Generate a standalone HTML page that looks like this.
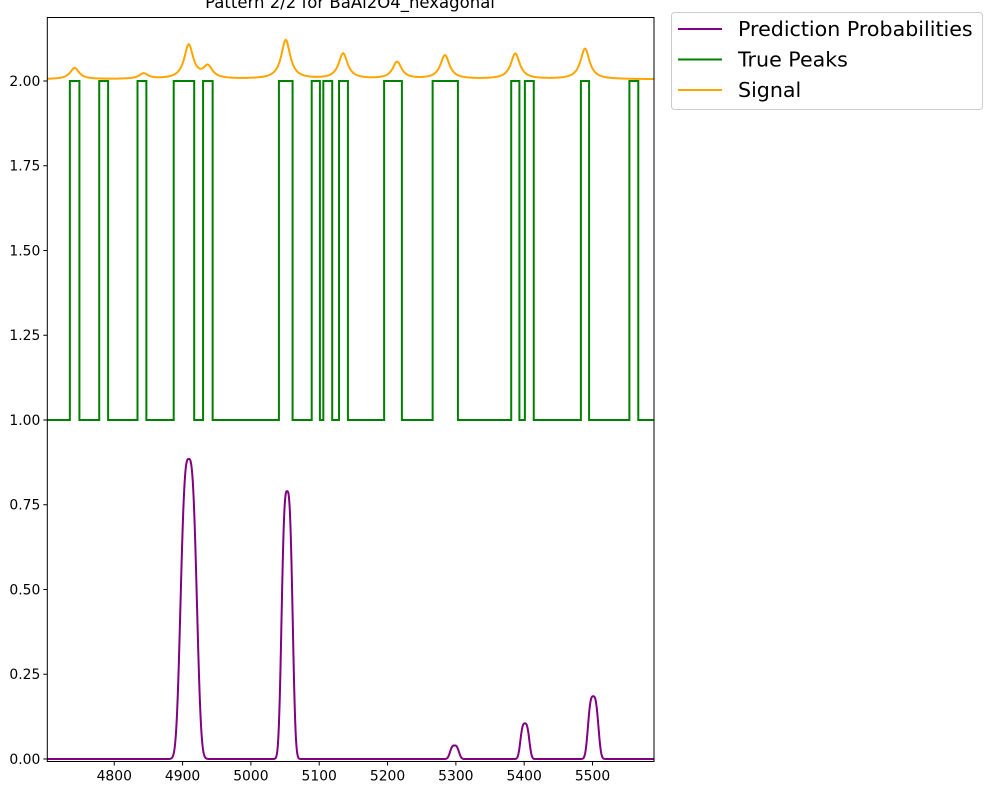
<!DOCTYPE html>
<html><head><meta charset="utf-8"><style>
body{margin:0;background:#fff;}
svg{display:block;font-family:"DejaVu Sans","Liberation Sans",sans-serif;}
</style></head><body>
<svg id="chart" width="1000" height="800"></svg>
<script>
const xTicks=[4800,4900,5000,5100,5200,5300,5400,5500];
const yTicks=[0,0.25,0.5,0.75,1.0,1.25,1.5,1.75,2.0];
const yTickLabels=["0.00","0.25","0.50","0.75","1.00","1.25","1.50","1.75","2.00"];
const truePeakStarts=[4735,4778,4834,4887,4930,5041,5089,5106,5129,5195,5266,5381,5401,5483,5554];
const truePeakEnds=[4749,4791,4847,4917,4944,5061,5101,5119,5142,5221,5303,5393,5414,5495,5567];
const signalPeakX=[4742,4843,4909,4937,5051,5135,5214,5284,5387,5489];
const signalPeakH=[0.033,0.016,0.10,0.035,0.115,0.075,0.05,0.07,0.075,0.09];
const predPeakX=[4909,5053,5298,5401,5501];
const predPeakH=[0.885,0.79,0.04,0.105,0.185];
const predPeakW=[11,7.5,6,6,7];
const signalBase=2.005;

const svg=document.getElementById('chart');
const NS='http://www.w3.org/2000/svg';
const L=47.3,R=654,T=17.5,B=761.5;
const xmin=4702,xmax=5590,ymin=-0.0074,ymax=2.1873;
const X=v=>L+(v-xmin)/(xmax-xmin)*(R-L);
const Y=v=>B-(v-ymin)/(ymax-ymin)*(B-T);
function mk(tag,attrs,parent){const e=document.createElementNS(NS,tag);for(const k in attrs)e.setAttribute(k,attrs[k]);(parent||svg).appendChild(e);return e;}

const title=mk('text',{x:350,y:8,'text-anchor':'middle','font-size':'16.5'});
title.textContent='Pattern 2/2 for BaAl2O4_hexagonal';



const defs=mk('defs',{});
const cp=mk('clipPath',{id:'clip'},defs);
mk('rect',{x:L,y:T,width:R-L,height:B-T},cp);
const g=mk('g',{'clip-path':'url(#clip)'});



let d='M'+X(xmin)+','+Y(1);
for(let i=0;i<truePeakStarts.length;i++){
  d+=' L'+X(truePeakStarts[i])+','+Y(1)+' L'+X(truePeakStarts[i])+','+Y(2)+' L'+X(truePeakEnds[i])+','+Y(2)+' L'+X(truePeakEnds[i])+','+Y(1);
}
d+=' L'+X(xmax)+','+Y(1);
const tp=mk('path',{d:d,fill:'none',stroke:'green','stroke-width':2},g);



let ds='';
for(let x=xmin;x<=xmax;x+=1){
  let v=signalBase;
  for(let i=0;i<signalPeakX.length;i++){const u=(x-signalPeakX[i])/8;v+=signalPeakH[i]/(1+u*u);}
  ds+=(ds?' L':'M')+X(x).toFixed(2)+','+Y(v).toFixed(2);
}
const sp=mk('path',{d:ds,fill:'none',stroke:'orange','stroke-width':2},g);



let dp='';
for(let x=xmin;x<=xmax;x+=0.5){
  let v=0;
  for(let i=0;i<predPeakX.length;i++){const u=Math.abs(x-predPeakX[i])/predPeakW[i];v+=predPeakH[i]*Math.exp(-0.5*u*u*u);}
  dp+=(dp?' L':'M')+X(x).toFixed(2)+','+Y(v).toFixed(2);
}
const pp=mk('path',{d:dp,fill:'none',stroke:'purple','stroke-width':2},g);



const frame=mk('rect',{x:L,y:T,width:R-L,height:B-T,fill:'none',stroke:'#000','stroke-width':1});



xTicks.forEach(t=>{
  mk('line',{x1:X(t),x2:X(t),y1:B,y2:B+4,stroke:'#000'});
  const tx=mk('text',{x:X(t),y:B+19,'text-anchor':'middle','font-size':'13.9'});
  tx.textContent=t;
  
  
});
yTicks.forEach((t,i)=>{
  mk('line',{x1:L-4,x2:L,y1:Y(t),y2:Y(t),stroke:'#000'});
  const tx=mk('text',{x:L-7,y:Y(t)+5,'text-anchor':'end','font-size':'13.9'});
  tx.textContent=yTickLabels[i];
  
  
});

const lg=mk('g',{});


mk('rect',{x:671.5,y:12.5,width:311,height:97,rx:3,fill:'#fff',stroke:'#ccc'},lg);
const legNames=['Prediction Probabilities','True Peaks','Signal'];
const legColors=['purple','green','orange'];
legNames.forEach((n,i)=>{
  const yy=29+i*30.5;
  mk('line',{x1:678,x2:722,y1:yy,y2:yy,stroke:legColors[i],'stroke-width':2},lg);
  const tx=mk('text',{x:738,y:yy+7,'font-size':'20.6'},lg);
  tx.textContent=n;
  
  
});
</script>
</body></html>
